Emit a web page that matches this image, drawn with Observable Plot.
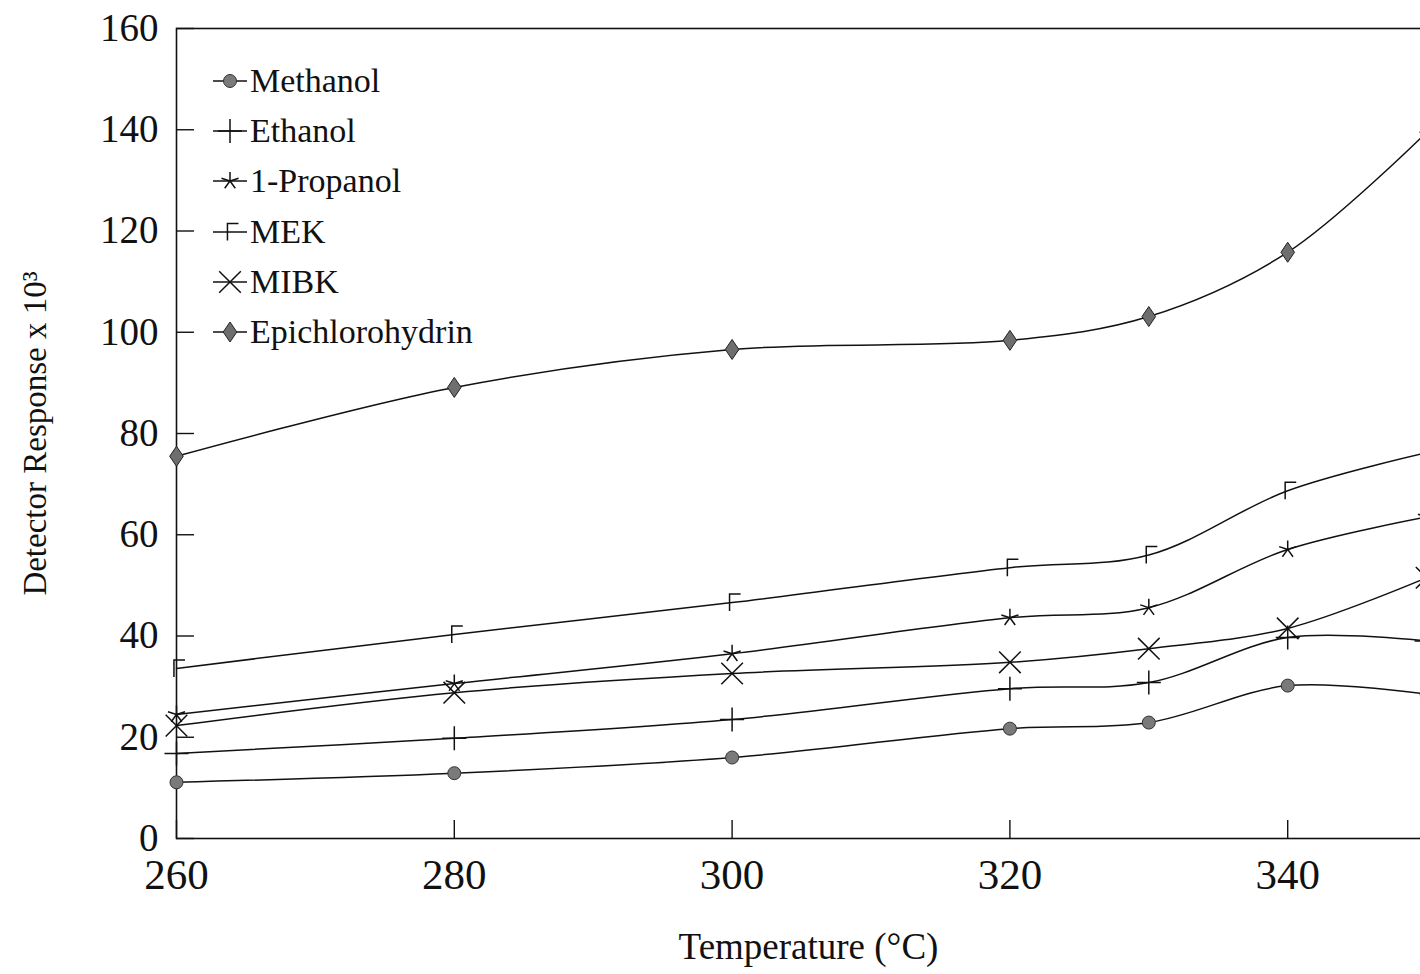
<!DOCTYPE html>
<html>
<head>
<meta charset="utf-8">
<script src="https://cdn.jsdelivr.net/npm/d3@7"></script>
<script src="https://cdn.jsdelivr.net/npm/@observablehq/plot@0.6"></script>
<style>
  html, body { margin: 0; padding: 0; background: #fff; overflow: hidden; }
  #wrap { position: relative; width: 1420px; height: 974px; overflow: hidden;
          font-family: "Liberation Serif", "Times New Roman", serif; color: #111; }
  #chart svg { max-width: none !important; }
  #legend { position: absolute; left: 211px; top: 56px; }
  .row { display: flex; align-items: center; height: 50.2px; font-size: 34px; white-space: nowrap; }
  .row svg { display: block; margin-right: 1px; }
</style>
</head>
<body>
<div id="wrap">
  <div id="chart"></div>
  <div id="legend"></div>
</div>
<script>
// Temperatures (°C) at which the detector response was measured
const temperatures = [260, 280, 300, 320, 330, 340, 350];

// Detector response (x 10³) for each compound
const seriesNames = ["Methanol", "Ethanol", "1-Propanol", "MEK", "MIBK", "Epichlorohydrin"];
const methanol        = [11.1, 12.9, 16.0, 21.7, 22.9, 30.2, 28.5];
const ethanol         = [16.8, 19.8, 23.5, 29.6, 30.8, 39.7, 39.0];
const propanol        = [24.5, 30.6, 36.5, 43.6, 45.6, 57.1, 63.5];
const mek             = [33.6, 40.3, 46.6, 53.5, 56.0, 68.7, 76.2];
const mibk            = [22.3, 28.8, 32.6, 34.8, 37.5, 41.5, 51.5];
const epichlorohydrin = [75.5, 89.1, 96.6, 98.4, 103.1, 115.8, 139.5];

// Axis ticks
const xTicks = [260, 280, 300, 320, 340];
const yTicks = [0, 20, 40, 60, 80, 100, 120, 140, 160];

const seriesValues = [methanol, ethanol, propanol, mek, mibk, epichlorohydrin];

// Long-format table for the lines
const rows = seriesNames.flatMap((name, i) =>
  temperatures.map((t, j) => ({series: name, temperature: t, response: seriesValues[i][j]}))
);

// Marker shapes; each uses r = sqrt(size / π) as its half-extent
const half = size => Math.sqrt(size / Math.PI);
const symPlus = {draw(c, s) { const r = half(s); c.moveTo(-r, 0); c.lineTo(r, 0); c.moveTo(0, -r); c.lineTo(0, r); }};
const symTimes = {draw(c, s) { const r = half(s) * 0.72; c.moveTo(-r, -r); c.lineTo(r, r); c.moveTo(-r, r); c.lineTo(r, -r); }};
const symAsterisk = {draw(c, s) {
  const r = half(s);
  for (let k = 0; k < 5; ++k) {
    const a = -Math.PI / 2 + k * 2 * Math.PI / 5;
    c.moveTo(0, 0); c.lineTo(r * Math.cos(a), r * Math.sin(a));
  }
}};
const symCorner = {draw(c, s) {
  const r = half(s);
  c.moveTo(-0.3 * r, r); c.lineTo(-0.3 * r, -r); c.lineTo(r, -r);
}};
const symDiamond = {draw(c, s) {
  const r = half(s), w = 0.68 * r;
  c.moveTo(0, -r); c.lineTo(w, 0); c.lineTo(0, r); c.lineTo(-w, 0); c.closePath();
}};

const markerStyles = {
  "Methanol":        {symbol: d3.symbolCircle, r: 6.5, fill: "#7a7a7a", stroke: "#333", strokeWidth: 1},
  "Ethanol":         {symbol: symPlus,     r: 12,  fill: "none", stroke: "#111", strokeWidth: 1.5},
  "1-Propanol":      {symbol: symAsterisk, r: 9,   fill: "none", stroke: "#111", strokeWidth: 1.5},
  "MEK":             {symbol: symCorner,   r: 8.5, fill: "none", stroke: "#111", strokeWidth: 1.5},
  "MIBK":            {symbol: symTimes,    r: 15,  fill: "none", stroke: "#111", strokeWidth: 1.5},
  "Epichlorohydrin": {symbol: symDiamond,  r: 10,  fill: "#6e6e6e", stroke: "#222", strokeWidth: 1}
};

const font = "'Liberation Serif', 'Times New Roman', serif";

const chart = Plot.plot({
  width: 1440,
  height: 974,
  marginLeft: 176,
  marginRight: 0,
  marginTop: 28,
  marginBottom: 136,
  x: {domain: [260, 351]},
  y: {domain: [0, 160]},
  style: {fontFamily: font, color: "#111", background: "white", overflow: "visible", maxWidth: "none"},
  marks: [
    Plot.frame({stroke: "#111", strokeWidth: 1.6}),
    Plot.axisY({ticks: yTicks, tickSize: -18, tickPadding: 36, fontSize: 39, label: null, strokeWidth: 1.4}),
    Plot.axisX({ticks: xTicks, tickSize: -18, tickPadding: 38, fontSize: 43, label: null, strokeWidth: 1.4}),
    Plot.text(["Detector Response x 10³"], {frameAnchor: "left", textAnchor: "middle", lineAnchor: "middle",
                                            rotate: -90, dx: -141, fontSize: 33}),
    Plot.text(["Temperature (°C)"], {frameAnchor: "bottom", textAnchor: "middle", lineAnchor: "middle",
                                     dy: 109, fontSize: 37}),
    Plot.line(rows, {x: "temperature", y: "response", z: "series", curve: "catmull-rom",
                     stroke: "#111", strokeWidth: 1.5}),
    ...seriesNames.map(name => {
      const m = markerStyles[name];
      return Plot.dot(rows.filter(d => d.series === name), {
        x: "temperature", y: "response", symbol: m.symbol, r: m.r,
        fill: m.fill, stroke: m.stroke, strokeWidth: m.strokeWidth
      });
    })
  ]
});
chart.style.maxWidth = "none";
document.getElementById("chart").append(chart);

// Legend: short line segment with the series marker, then the name
const legend = d3.select("#legend");
seriesNames.forEach(name => {
  const m = markerStyles[name];
  const row = legend.append("div").attr("class", "row");
  const svg = row.append("svg").attr("width", 38).attr("height", 50);
  svg.append("line").attr("x1", 2).attr("x2", 36).attr("y1", 25).attr("y2", 25)
    .attr("stroke", "#111").attr("stroke-width", 1.5);
  const path = d3.symbol(m.symbol, Math.PI * m.r * m.r)();
  svg.append("path").attr("d", path).attr("transform", "translate(19,25)")
    .attr("fill", m.fill).attr("stroke", m.stroke).attr("stroke-width", m.strokeWidth);
  row.append("span").text(name);
});
</script>
</body>
</html>
